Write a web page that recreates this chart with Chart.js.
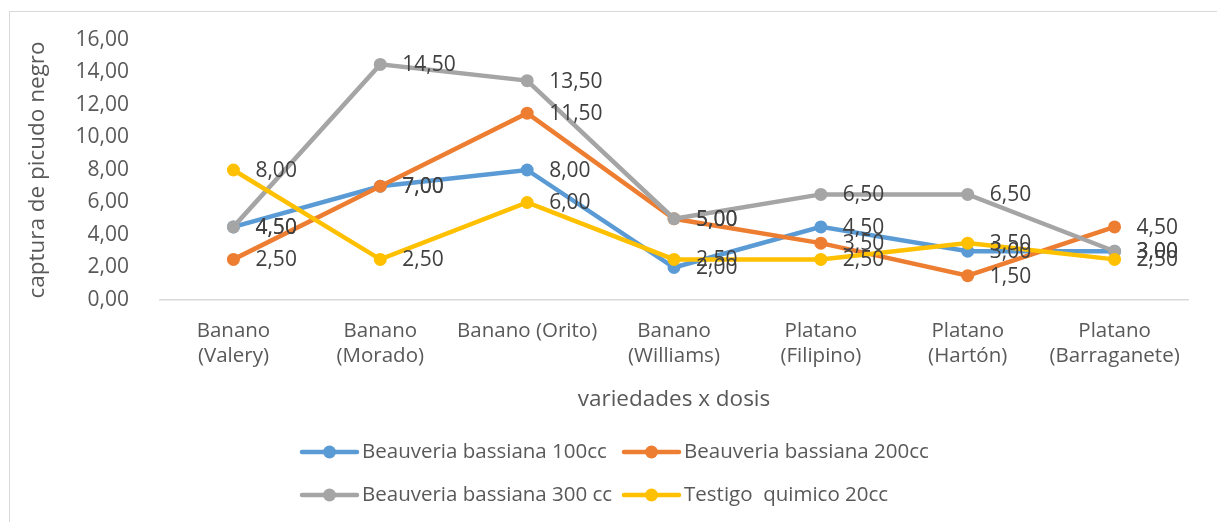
<!DOCTYPE html>
<html>
<head>
<meta charset="utf-8">
<script src="https://cdn.jsdelivr.net/npm/chart.js@4.4.1/dist/chart.umd.min.js"></script>
<style>
  html, body { margin: 0; padding: 0; background: #fff; }
  #wrap { width: 1217px; height: 522px; position: relative; }
</style>
</head>
<body>
<div id="wrap"><canvas id="chart" width="1217" height="522"></canvas></div>
<script>
const categories = [
    ['Banano', '(Valery)'],
    ['Banano', '(Morado)'],
    'Banano (Orito)',
    ['Banano', '(Williams)'],
    ['Platano', '(Filipino)'],
    ['Platano', '(Hartón)'],
    ['Platano', '(Barraganete)']
];
const seriesNames = ['Beauveria bassiana 100cc', 'Beauveria bassiana 200cc', 'Beauveria bassiana 300 cc', 'Testigo  quimico 20cc'];
const seriesColors = ['#5B9BD5', '#ED7D31', '#A5A5A5', '#FFC000'];
const dosis100 = [4.5, 7, 8, 2, 4.5, 3, 3];
const dosis200 = [2.5, 7, 11.5, 5, 3.5, 1.5, 4.5];
const dosis300 = [4.5, 14.5, 13.5, 5, 6.5, 6.5, 3];
const testigo = [8, 2.5, 6, 2.5, 2.5, 3.5, 2.5];
const yTicks = [0, 2, 4, 6, 8, 10, 12, 14, 16];

const FONT = "'Open Sans', 'Noto Sans', sans-serif";
const fmt = v => v.toFixed(2).replace('.', ',');

// excel-ish labels to the right of each point
const dataLabels = {
    id: 'dataLabels',
    afterDatasetsDraw(chart) {
        const ctx = chart.ctx;
        ctx.save();
        ctx.font = '21px ' + FONT;
        ctx.fillStyle = '#404040';
        ctx.textAlign = 'left';
        ctx.textBaseline = 'middle';
        chart.data.datasets.forEach((ds, i) => {
            chart.getDatasetMeta(i).data.forEach((pt, j) => {
                ctx.fillText(fmt(ds.data[j]), pt.x + 22, pt.y + 1);
            });
        });
        ctx.restore();
    }
};

// legend: 2 columns, line + marker
const lineLegend = {
    id: 'lineLegend',
    afterDraw(chart) {
        const ctx = chart.ctx;
        ctx.save();
        ctx.font = '20.5px ' + FONT;
        ctx.textBaseline = 'middle';
        ctx.textAlign = 'left';
        chart.data.datasets.forEach((ds, i) => {
            const x = 302 + (i % 2) * 322;
            const y = 452 + Math.floor(i / 2) * 43;
            ctx.strokeStyle = ds.borderColor;
            ctx.lineWidth = 4.5;
            ctx.lineCap = 'round';
            ctx.beginPath();
            ctx.moveTo(x, y);
            ctx.lineTo(x + 55, y);
            ctx.stroke();
            ctx.fillStyle = ds.borderColor;
            ctx.beginPath();
            ctx.arc(x + 27.5, y, 6.5, 0, Math.PI * 2);
            ctx.fill();
            ctx.fillStyle = '#595959';
            ctx.fillText(ds.label, x + 60, y);
        });
        // outer chart border
        ctx.strokeStyle = '#d9d9d9';
        ctx.lineWidth = 1;
        ctx.strokeRect(9.5, 11.5, 1400, 700);
        ctx.restore();
    }
};

const allSeries = [dosis100, dosis200, dosis300, testigo];

new Chart(document.getElementById('chart').getContext('2d'), {
    type: 'line',
    data: {
        labels: categories,
        datasets: allSeries.map((d, i) => ({
            label: seriesNames[i],
            data: d,
            borderColor: seriesColors[i],
            backgroundColor: seriesColors[i],
            borderWidth: 4.5,
            pointRadius: 6.5,
            pointHoverRadius: 6.5,
            pointBorderWidth: 0,
            tension: 0,
            order: 3 - i
        }))
    },
    options: {
        responsive: false,
        animation: false,
        layout: { padding: { left: 0, right: 29, top: 40, bottom: 109 } },
        plugins: {
            legend: { display: false },
            tooltip: { enabled: false }
        },
        scales: {
            x: {
                offset: true,
                grid: { display: false },
                border: { display: true, color: '#d9d9d9', width: 1.5 },
                ticks: {
                    color: '#595959',
                    font: { family: FONT, size: 20.5, lineHeight: 1.25 },
                    padding: 10,
                    maxRotation: 0,
                    autoSkip: false
                },
                title: {
                    display: true,
                    text: 'variedades x dosis',
                    color: '#595959',
                    font: { family: FONT, size: 22.5, lineHeight: 1.2 },
                    padding: { top: 0, bottom: 0 }
                },
                afterFit: s => { s.height = 113; }
            },
            y: {
                min: 0,
                max: 16,
                grid: { display: false },
                border: { display: false },
                afterBuildTicks: s => { s.ticks = yTicks.map(v => ({ value: v })); },
                ticks: {
                    color: '#595959',
                    font: { family: FONT, size: 21 },
                    padding: 23,
                    callback: v => fmt(v)
                },
                title: {
                    display: true,
                    text: 'captura de picudo negro',
                    color: '#595959',
                    font: { family: FONT, size: 22.5, lineHeight: 1.2 },
                    padding: { top: 24, bottom: 0 }
                },
                afterFit: s => { s.width = 160; }
            }
        }
    },
    plugins: [dataLabels, lineLegend]
});
</script>
</body>
</html>
